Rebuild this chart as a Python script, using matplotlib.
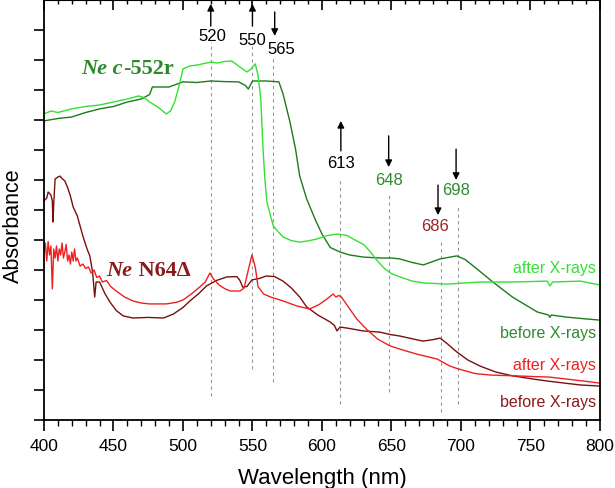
import numpy as np
import matplotlib.pyplot as plt

plt.rcParams['font.family'] = ['Liberation Sans', 'DejaVu Sans']

# Ne c-552r, before X-rays (dark green)
cb_wl = [400, 410, 420, 430, 440, 450, 460, 470, 476, 478, 490, 500, 510, 520, 530, 540,
         545, 547, 550, 560, 569, 572, 577, 581, 584, 589, 595, 600, 606, 613, 620, 630,
         642, 650, 656, 665, 673, 685, 697, 703, 709, 723, 737, 755, 763, 764, 765, 776, 790, 800]
cb_abs = [9.97, 10.05, 10.1, 10.25, 10.37, 10.45, 10.6, 10.7, 10.85, 11.1, 11.1, 11.27, 11.25, 11.3, 11.28, 11.27,
          11.15, 11.03, 11.3, 11.3, 11.27, 10.87, 9.93, 9.03, 8.13, 7.37, 6.7, 6.2, 5.75, 5.6, 5.5, 5.43,
          5.4, 5.4, 5.37, 5.25, 5.17, 5.37, 5.47, 5.35, 5.13, 4.6, 4.1, 3.6, 3.5, 3.42, 3.5, 3.43, 3.37, 3.33]

# Ne c-552r, after X-rays (light green)
ca_wl = [400, 405, 410, 420, 430, 440, 450, 460, 468, 472, 476, 482, 488, 491, 494, 497, 500, 505,
         510, 520, 525, 530, 535, 540, 546, 549, 552, 554, 556, 557.6, 559, 560.4, 563, 565, 568, 572,
         578, 584, 590, 596, 604, 611, 618, 625, 630, 635, 640, 645, 650, 656, 665, 673, 690, 714,
         737, 762, 764, 766, 786, 800]
ca_abs = [10.2, 10.3, 10.25, 10.37, 10.45, 10.5, 10.6, 10.7, 10.8, 10.75, 10.6, 10.43, 10.2, 10.3, 10.6, 11.1, 11.7, 11.8,
          11.83, 11.93, 11.9, 11.95, 11.97, 11.8, 11.6, 11.7, 11.87, 11.5, 10.7, 9.03, 8.0, 7.27, 6.8, 6.47, 6.3, 6.1,
          5.98, 5.93, 5.97, 6.03, 6.15, 6.2, 6.15, 5.97, 5.85, 5.6, 5.3, 5.05, 4.88, 4.77, 4.63, 4.57, 4.53, 4.6,
          4.6, 4.63, 4.47, 4.6, 4.63, 4.5]

# Ne N64Delta, before X-rays (maroon)
nb_wl = [400, 402, 403, 405, 406, 406.5, 407, 408, 410, 411.5, 413, 415, 417, 419, 421, 424, 428, 431,
         433, 435, 436.5, 437.5, 440, 444, 447.5, 452, 457, 464, 475, 486, 493, 500, 505, 511, 517, 524,
         531.6, 538.8, 541, 543, 546, 549.6, 555, 560, 566, 572, 578, 584, 589, 597, 605.8, 609, 610.8,
         613, 620, 629.5, 641.7, 649, 656, 672.6, 680, 685, 690, 697, 705, 713.7, 725, 737.5, 750, 762,
         785.6, 800]
nb_abs = [7.3, 7.4, 7.6, 7.5, 7.3, 6.6, 7.2, 8.03, 8.1, 8.13, 8.05, 7.97, 7.75, 7.47, 7.1, 6.8, 6.13, 5.7,
          5.47, 4.93, 4.1, 4.6, 4.6, 4.2, 3.93, 3.65, 3.47, 3.4, 3.42, 3.4, 3.53, 3.75, 3.97, 4.2, 4.47, 4.65,
          4.77, 4.78, 4.65, 4.43, 4.45, 4.67, 4.72, 4.8, 4.78, 4.63, 4.4, 4.1, 3.77, 3.5, 3.27, 3.15, 2.97,
          3.1, 3.05, 2.97, 2.93, 2.85, 2.8, 2.63, 2.68, 2.73, 2.55, 2.27, 2.0, 1.8, 1.6, 1.47, 1.38, 1.3,
          1.17, 1.13]

# Ne N64Delta, after X-rays (red)
na_wl = [400, 401, 402, 403, 404, 405, 406, 407, 408, 409, 410, 411, 412, 413, 414, 415, 416, 417,
         418, 419, 420, 421, 422, 423, 424, 426, 428, 430, 432, 434, 436, 438, 440, 442, 445, 448,
         452, 458, 464, 470, 476, 488, 495, 500, 506, 512, 516, 519.4, 522, 526, 530,
         534, 541, 544, 547, 549.6, 552, 554, 558, 563, 572, 582, 591, 598, 604, 608, 610, 612, 614,
         620, 625, 632, 640, 649, 657, 668, 683, 692, 697, 710, 721, 740, 764, 788, 800]
na_abs = [5.6, 5.9, 5.3, 5.95, 5.5, 5.8, 4.37, 5.7, 5.4, 5.8, 5.3, 5.7, 5.5, 5.9, 5.4, 5.6, 5.85, 5.3,
          5.5, 5.2, 5.6, 5.3, 5.7, 5.3, 5.4, 5.13, 5.2, 5.05, 5.1, 4.9, 5.0, 4.75, 4.8, 4.6, 4.65, 4.45,
          4.3, 4.1, 3.97, 3.9, 3.87, 3.87, 3.92, 4.0, 4.2, 4.43, 4.6, 4.9, 4.7, 4.5, 4.38,
          4.3, 4.3, 4.4, 5.0, 5.5, 5.1, 4.45, 4.2, 4.1, 3.97, 3.8, 3.7, 3.85, 4.05, 4.2, 4.1, 4.15, 4.1,
          3.7, 3.37, 3.03, 2.7, 2.47, 2.35, 2.2, 2.03, 1.8, 1.72, 1.55, 1.5, 1.47, 1.43, 1.3, 1.23]

# marked wavelengths: (line x, dashed top, dashed bottom)
marks_wl = [520, 550, 565, 613, 648, 686, 698]
marks_top = [12.6, 12.47, 12.13, 8.03, 7.53, 6.03, 7.2]
marks_bot = [0.8, 1.7, 1.27, 0.53, 0.93, 0.27, 0.53]

# arrows: x, tail, head ; labels: text, x, y, colour
arrow_x = [520, 550, 566, 613.6, 648, 683.5, 696.5]
arrow_tail = [13.13, 13.13, 13.6, 8.97, 9.47, 7.83, 9.03]
arrow_head = [13.87, 13.87, 12.8, 9.97, 8.43, 6.83, 8.0]
lab_text = ['520', '550', '565', '613', '648', '686', '698']
lab_x = [521, 549.6, 571, 613.6, 648, 681.3, 696.4]
lab_y = [12.83, 12.67, 12.37, 8.57, 8.03, 6.5, 7.67]
lab_col = ['black', 'black', 'black', 'black', '#2e8b2e', '#9b2323', '#2e8b2e']

fig = plt.figure(figsize=(6.15, 4.89), dpi=100)
ax = fig.add_axes([0.0715, 0.139, 0.904, 0.859])

for x, t, b in zip(marks_wl, marks_top, marks_bot):
    ax.plot([x, x], [b, t], color='#999999', lw=0.8, ls=(0, (3, 3)))

ax.plot(cb_wl, cb_abs, color='#1e7a1e', lw=1.0)
ax.plot(ca_wl, ca_abs, color='#33e033', lw=1.0)
ax.plot(nb_wl, nb_abs, color='#7a0f0f', lw=1.0)
ax.plot(na_wl, na_abs, color='#f02020', lw=1.0)

for x, t, h in zip(arrow_x, arrow_tail, arrow_head):
    ax.annotate('', xy=(x, h), xytext=(x, t),
                arrowprops=dict(arrowstyle='-|>', color='black', lw=1.0,
                                mutation_scale=10, shrinkA=0, shrinkB=0))
for s, x, y, c in zip(lab_text, lab_x, lab_y, lab_col):
    ax.text(x, y, s, color=c, fontsize=12, ha='center', va='center')

# sample names, bold serif with italic "Ne"
serif = ['Liberation Serif', 'DejaVu Serif']
t1 = ax.text(427, 11.57, 'Ne c', fontsize=16, color='#2a8a2a', family=serif,
             weight='bold', style='italic', va='baseline')
ax.annotate('-552r', xy=(1, 0), xycoords=t1, fontsize=16, color='#2a8a2a',
            family=serif, weight='bold', va='bottom')
t2 = ax.text(445, 4.83, 'Ne', fontsize=16, color='#8b1a1a', family=serif,
             weight='bold', style='italic', va='baseline')
ax.annotate(' N64Δ', xy=(1, 0), xycoords=t2, fontsize=16, color='#8b1a1a',
            family=serif, weight='bold', va='bottom')

ax.text(797, 4.94, 'after X-rays', color='#33e033', fontsize=11.5, ha='right', va='baseline')
ax.text(797, 2.77, 'before X-rays', color='#2e8b2e', fontsize=11.5, ha='right', va='baseline')
ax.text(797, 1.70, 'after X-rays', color='#f02020', fontsize=11.5, ha='right', va='baseline')
ax.text(797, 0.48, 'before X-rays', color='#8b1a1a', fontsize=11.5, ha='right', va='baseline')

ax.set_xlim(400, 800)
ax.set_ylim(0, 14)
ax.set_xticks(np.arange(400, 801, 50))
ax.set_xticks(np.arange(400, 801, 10), minor=True)
ax.set_yticks(np.arange(0, 14, 1))
ax.set_yticklabels([])
ax.tick_params(axis='x', which='major', direction='out', length=8, width=1.2, labelsize=12.5, pad=5)
ax.tick_params(axis='x', which='minor', direction='out', length=4.5, width=1.0)
ax.tick_params(axis='y', which='major', direction='out', length=7, width=1.2)

top = ax.secondary_xaxis('top')
top.set_xticks(np.arange(400, 801, 50))
top.set_xticks(np.arange(400, 801, 10), minor=True)
top.tick_params(which='major', direction='in', length=7, width=1.2, labeltop=False)
top.tick_params(which='minor', direction='in', length=3, width=1.0)

for sp in ax.spines.values():
    sp.set_linewidth(1.3)

ax.set_xlabel('Wavelength (nm)', fontsize=16, labelpad=10)
ax.set_ylabel('Absorbance', fontsize=15.5)
ax.yaxis.set_label_coords(-0.036, 0.464)

fig.savefig('out.png', dpi=100)
